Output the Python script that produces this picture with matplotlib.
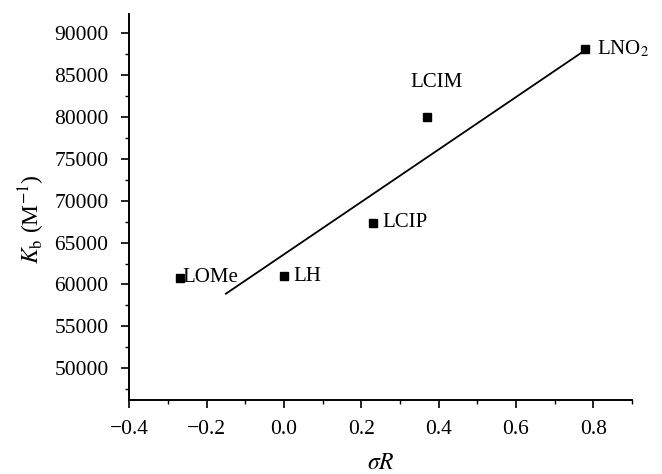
import matplotlib
matplotlib.use("Agg")
import matplotlib.pyplot as plt
from matplotlib.ticker import MultipleLocator, FuncFormatter

plt.rcParams['font.family'] = ['Liberation Serif', 'DejaVu Serif']
plt.rcParams['mathtext.fontset'] = 'stix'

# Data
names = ["LOMe", "LH", "LCIP", "LCIM", r"LNO$_2$"]
sigma_r = [-0.27, 0.0, 0.23, 0.37, 0.78]
kb = [60800, 61000, 67400, 80000, 88100]
fit_x = [-0.15, 0.78]
fit_y = [58900, 88000]

label_offsets = [(2, 0), (7, 0), (7, 0), (-12, 25), (8, 0)]

fig = plt.figure(figsize=(6.62, 4.74), dpi=100)
ax = fig.add_axes([0.1953, 0.156, 0.7591, 0.8145])

ax.plot(fit_x, fit_y, color='black', lw=1.3, zorder=2)
ax.plot(sigma_r, kb, 's', color='black', ms=5.5, zorder=3)

for n, x, y, off in zip(names, sigma_r, kb, label_offsets):
    ax.annotate(n, (x, y), xytext=off, textcoords='offset points',
                ha='left', va='center', fontsize=15)

ax.set_xlim(-0.4, 0.9)
ax.set_ylim(46200, 92300)
ax.xaxis.set_major_locator(MultipleLocator(0.2))
ax.xaxis.set_minor_locator(MultipleLocator(0.1))
ax.yaxis.set_major_locator(MultipleLocator(5000))
ax.yaxis.set_minor_locator(MultipleLocator(2500))
ax.xaxis.set_major_formatter(FuncFormatter(lambda v, p: f"{v:.1f}".replace("-", "\u2212")))
ax.yaxis.set_major_formatter(FuncFormatter(lambda v, p: f"{v:.0f}"))

for s in ['top', 'right']:
    ax.spines[s].set_visible(False)
for s in ['left', 'bottom']:
    ax.spines[s].set_linewidth(1.4)

ax.tick_params(which='major', direction='out', length=6, width=1.2, labelsize=15.5)
ax.tick_params(axis='y', which='major', pad=9)
ax.tick_params(axis='x', which='major', pad=8)
ax.tick_params(which='minor', direction='out', length=3, width=1.0)

ax.set_xlabel(r'$\sigma R$', fontsize=17)
ax.xaxis.set_label_coords(0.5, -0.137)
ax.set_ylabel(r'$K_{\mathrm{b}}$ (M$^{-1}$)', fontsize=17)
ax.yaxis.set_label_coords(-0.163, 0.47)

fig.savefig("out.png", dpi=100)
